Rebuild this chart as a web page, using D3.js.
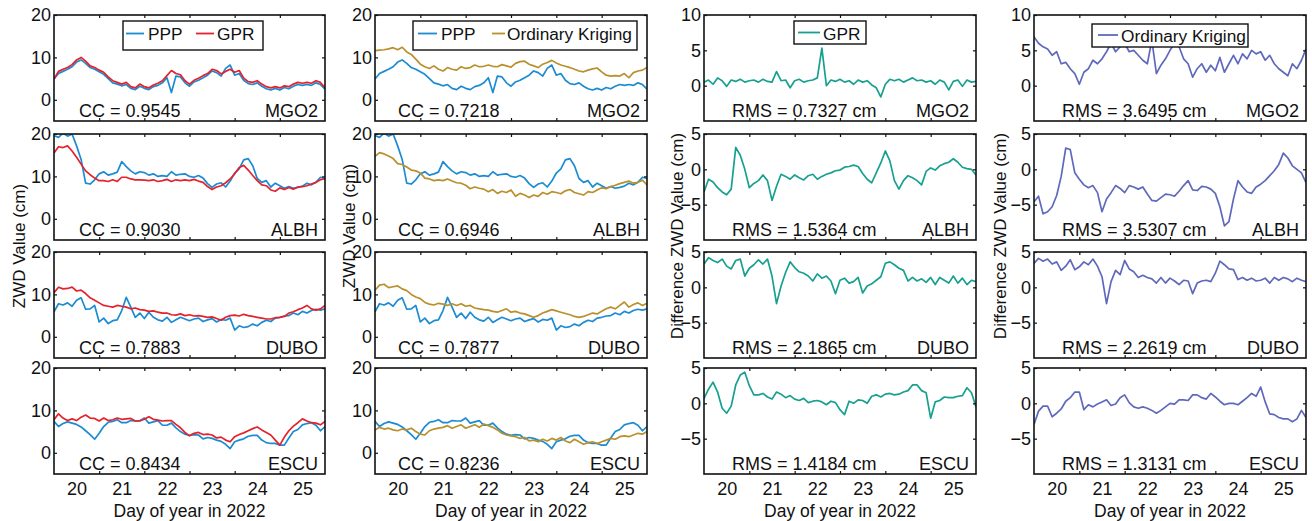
<!DOCTYPE html>
<html>
<head>
<meta charset="utf-8">
<title>ZWD PPP vs GPR / Ordinary Kriging</title>
<script src="https://cdn.jsdelivr.net/npm/d3@7"></script>
<style>
  body { margin: 0; background: #fff; }
  text { font-family: "Liberation Sans", Arial, sans-serif; fill: #111; }
</style>
</head>
<body>
<svg width="1312" height="521" id="mainsvg"></svg>
<script>
const stations = ['MGO2', 'ALBH', 'DUBO', 'ESCU'];
const dayLabels = [20, 21, 22, 23, 24, 25];
const dayBounds = [20.5, 21.5, 22.5, 23.5, 24.5];
const startDay = 19.5, stepDay = 0.1;

const ccGpr = ['0.9545', '0.9030', '0.7883', '0.8434'];
const ccOk = ['0.7218', '0.6946', '0.7877', '0.8236'];
const rmsGpr = ['0.7327', '1.5364', '2.1865', '1.4184'];
const rmsOk = ['3.6495', '3.5307', '2.2619', '1.3131'];

const pppMGO2 = [4.9,6.2,6.7,7.2,7.8,8.9,9.4,8.6,7.6,7.2, 6.6,6.0,5.0,4.0,3.7,3.3,3.6,2.7,2.4,3.2,
  2.7,2.4,3.1,3.4,4.0,5.2,1.7,5.6,5.4,4.0, 3.2,4.2,4.6,5.2,5.8,6.8,6.4,5.6,7.4,8.2,
  5.8,6.2,4.6,3.8,3.6,4.0,3.2,2.6,2.3,2.7, 2.3,2.9,2.6,3.2,3.6,3.4,3.6,3.4,4.0,3.6, 2.5];
const gprMGO2 = [4.9,6.7,7.2,7.6,8.3,9.4,10.0,9.1,8.0,7.6, 7.0,6.5,5.4,4.5,4.1,3.7,4.1,3.1,2.8,3.7,
  3.1,2.8,3.5,3.9,4.5,5.7,6.9,6.2,5.9,4.5, 3.7,4.6,5.1,5.7,6.2,7.2,6.9,6.1,6.7,7.2,
  6.5,6.9,5.1,4.3,4.1,4.5,3.7,3.1,2.8,3.1, 2.8,3.3,3.1,3.7,4.1,3.9,4.1,3.9,4.5,4.1, 2.8];
const okMGO2 = [11.6,11.7,11.8,12.0,12.3,11.8,12.4,11.3,10.7,9.6, 8.4,7.8,7.4,8.0,7.2,6.8,7.6,7.2,7.0,7.8,
  7.4,7.6,8.2,7.8,7.9,8.2,7.9,7.8,8.3,8.0, 7.7,8.6,9.0,9.1,8.4,8.0,7.6,8.4,8.8,9.3,
  8.7,8.2,7.9,7.6,7.2,6.8,6.6,7.0,7.3,7.5, 6.6,5.8,5.6,5.7,5.6,6.2,5.2,6.4,6.8,7.0, 7.6];
const dGprMGO2 = [0.5,0.8,0.2,1.1,0.7,-0.1,0.8,0.6,0.9,0.5, 0.7,0.8,0.5,0.9,0.6,0.5,2.0,0.7,0.8,-0.3,
  0.7,0.9,0.5,0.7,0.8,1.1,5.3,0.0,0.8,0.6, 0.9,0.5,0.7,0.2,0.8,0.5,0.7,0.1,-0.3,-1.6,
  0.2,0.9,0.7,0.9,0.5,0.8,1.1,0.7,0.8,0.5, 0.7,0.2,0.8,0.5,-0.6,0.6,0.8,-0.1,0.8,0.5, 0.6];
const dOkMGO2 = [6.9,6.0,5.5,5.2,4.3,4.8,3.1,3.3,2.4,1.7, 0.2,1.9,2.4,3.6,3.1,3.8,4.8,6.0,4.8,5.5,
  6.0,4.8,5.0,4.3,3.6,3.1,6.4,1.7,2.9,3.8, 5.0,6.0,5.5,3.8,3.1,1.2,2.4,3.1,1.9,2.9,
  2.1,4.0,1.9,3.1,4.3,3.1,4.5,3.8,5.0,4.5, 4.8,3.6,4.3,3.1,2.4,1.9,1.4,3.1,2.4,3.6, 5.2];

const pppALBH = [19.6,19.2,20.2,19.5,20.0,17.2,14.0,8.4,8.2,9.2, 10.6,11.1,10.3,10.6,11.0,13.5,12.3,11.3,10.6,11.1,
  10.9,10.3,10.6,10.0,10.2,10.0,11.1,10.3,10.5,10.6, 10.0,9.8,10.2,9.6,8.3,7.4,8.2,8.5,7.5,8.9,
  10.8,11.8,13.9,14.2,12.5,9.5,8.6,9.0,7.5,8.4, 7.8,7.2,7.6,7.2,7.4,7.7,8.4,8.0,8.6,9.8, 9.5];
const gprALBH = [15.5,17.0,16.8,17.2,16.0,14.5,12.9,11.3,10.4,9.6, 9.0,9.0,8.8,9.2,8.8,9.8,9.8,9.4,9.2,9.2,
  9.1,9.0,9.2,8.8,9.0,9.3,8.8,9.2,9.0,9.2, 9.0,9.3,8.9,8.6,7.6,6.9,7.5,7.8,8.5,9.4,
  10.6,12.1,12.6,11.5,10.2,9.0,8.0,7.8,6.8,6.5, 7.3,6.9,7.4,7.0,7.5,7.6,7.8,8.2,8.6,9.2, 9.5];
const okALBH = [14.7,15.6,15.3,14.8,14.2,13.0,12.8,12.2,11.5,11.3, 10.8,9.6,9.4,9.0,9.2,9.0,9.4,8.9,8.5,8.4,
  7.9,7.1,7.5,7.2,7.0,6.4,6.9,6.0,6.5,6.2, 6.8,5.3,6.0,5.6,5.0,5.6,5.3,6.2,5.8,6.4,
  6.2,5.9,6.6,6.9,6.2,5.9,5.6,6.4,6.2,6.8, 7.3,7.1,7.6,7.9,8.3,8.6,8.9,8.4,8.6,9.1, 8.0];
const dGprALBH = [-3.2,-1.4,-1.8,-2.6,-3.2,-3.6,-2.8,3.1,2.0,0.0, -2.6,-2.0,-1.6,-0.8,-1.6,-4.4,-2.4,-0.7,-1.0,-1.4,
  -0.8,-1.2,-1.5,-0.9,-0.7,-1.4,-1.0,-0.7,-0.5,-0.2, -0.1,0.3,0.4,0.6,0.4,-0.6,-1.4,-1.9,-0.5,0.9,
  2.6,1.2,-1.6,-2.8,-1.6,-0.9,-1.2,-1.6,-2.2,-0.3, 0.2,-0.1,0.5,0.8,1.0,1.5,1.0,0.3,0.1,0.0, -0.8];
const dOkALBH = [-4.6,-3.8,-6.3,-6.0,-5.3,-3.7,-1.0,3.0,2.8,-0.5, -1.4,-2.2,-2.6,-2.3,-3.3,-6.0,-4.2,-3.3,-2.3,-2.7,
  -3.3,-2.3,-2.5,-2.8,-2.5,-3.5,-4.4,-4.5,-4.0,-3.5, -3.6,-3.8,-3.1,-2.3,-1.6,-2.9,-3.0,-2.4,-2.5,-2.8,
  -3.4,-5.3,-8.0,-7.4,-4.2,-1.6,-2.5,-3.2,-3.4,-2.5, -2.1,-1.6,-0.9,-0.2,0.7,2.3,1.6,0.5,0.0,-0.5, -1.9];

const pppDUBO = [5.9,7.8,7.5,8.0,7.2,8.6,9.2,6.5,6.6,7.4, 3.5,4.4,3.1,3.8,4.0,6.2,9.3,7.0,4.6,5.6,
  4.3,5.8,4.6,4.0,3.7,4.6,3.4,4.0,4.6,4.2, 3.8,4.2,4.4,3.6,4.0,4.3,3.5,4.1,3.9,4.4,
  1.6,2.6,2.2,2.4,3.0,2.6,3.4,3.9,3.6,4.4, 4.6,4.9,5.0,5.6,5.2,6.0,5.6,6.2,6.5,6.3, 6.6];
const gprDUBO = [10.4,11.7,11.3,11.4,11.7,10.8,11.0,10.2,9.2,8.6, 8.0,7.4,7.2,7.0,7.4,7.2,7.0,6.6,6.8,6.4,
  6.3,6.0,6.1,5.8,5.6,5.6,5.2,5.1,5.4,5.0, 5.2,4.9,5.0,4.8,4.6,4.7,4.3,3.9,4.6,5.0,
  5.1,4.9,5.3,5.0,4.8,4.6,4.4,4.2,4.2,4.5, 4.6,4.8,5.6,5.9,6.4,6.8,7.4,6.6,6.3,6.6, 7.4];
const okDUBO = [11.0,12.2,12.4,11.6,11.8,12.0,11.3,10.9,10.0,9.4, 9.0,8.1,7.7,7.5,7.9,7.7,7.4,7.8,7.4,7.8,
  7.2,7.4,6.8,6.6,6.4,6.3,6.0,5.8,6.2,6.6, 5.8,6.0,5.6,5.4,5.0,4.6,5.0,5.6,6.0,6.4,
  6.1,5.8,5.5,5.2,4.8,4.6,4.8,5.2,5.6,5.4, 6.0,6.6,7.0,6.6,7.4,8.2,7.0,7.6,8.0,7.4, 7.9];
const dGprDUBO = [3.3,4.2,3.8,3.5,4.0,3.0,2.6,3.8,4.0,1.6, 2.7,3.2,3.9,3.3,4.0,1.6,-2.3,0.2,2.1,3.6,
  2.8,2.2,2.0,1.6,0.9,1.9,1.3,1.6,0.9,-0.9, 1.0,1.3,0.6,0.8,1.4,-0.8,0.2,0.5,1.0,1.5,
  3.4,3.6,3.2,2.7,2.4,0.9,1.4,0.9,1.2,0.7, 1.4,0.4,1.4,1.0,0.6,1.6,0.6,1.3,0.4,1.0, 0.8];
const dOkDUBO = [3.4,4.1,3.7,4.0,3.3,3.6,2.4,3.0,3.9,2.5, 2.9,3.6,3.2,4.0,3.0,1.5,-2.3,0.8,2.4,1.8,
  3.8,2.6,2.2,1.4,1.7,1.4,1.2,0.6,1.4,0.6, 1.3,0.9,0.4,1.0,0.9,-0.9,0.6,0.9,1.0,0.8,
  2.0,3.7,3.2,2.6,2.5,1.1,1.4,1.0,1.3,0.9, 1.0,1.3,0.6,1.4,1.0,1.4,1.2,0.8,1.3,1.0, 0.8];

const pppESCU = [7.4,6.2,6.9,7.3,7.0,6.7,6.1,5.2,4.3,3.2, 4.6,6.2,7.2,7.4,7.8,7.1,7.1,7.6,7.5,7.5,
  8.2,7.0,7.3,7.6,6.5,6.5,7.0,5.9,5.0,4.4, 4.1,4.3,4.2,3.3,3.6,3.4,3.0,2.7,2.0,1.0,
  2.6,3.0,3.3,3.9,4.1,4.1,3.0,2.4,2.2,2.2, 1.8,1.8,3.5,5.0,5.5,6.6,6.9,7.1,6.5,5.2, 6.2];
const gprESCU = [7.8,9.2,8.2,7.6,8.0,7.6,8.4,8.9,8.2,8.1, 7.5,8.2,7.6,7.8,8.2,7.9,8.0,8.1,7.5,7.6,
  7.9,8.5,7.9,7.7,7.5,7.6,7.6,6.7,5.9,4.8, 4.0,4.6,4.8,4.3,4.4,4.2,3.5,3.7,3.0,2.6,
  3.8,4.3,4.7,5.2,5.7,6.1,5.4,4.8,4.2,3.0, 1.8,3.7,5.2,6.3,7.1,8.0,7.5,7.1,7.0,6.6, 7.4];
const okESCU = [5.4,6.0,5.6,5.8,5.4,5.2,5.6,5.4,5.8,5.0, 4.4,4.2,5.2,5.6,5.8,6.0,6.4,5.8,6.2,6.6,
  5.8,6.2,6.6,6.0,6.8,6.4,6.0,5.4,4.6,4.2, 4.0,3.8,3.4,3.6,2.8,3.0,2.6,3.2,2.8,3.4,
  3.0,3.6,2.8,2.4,3.2,2.6,2.0,2.4,2.6,2.2, 2.6,3.0,3.4,3.2,3.8,4.0,3.8,4.2,4.6,4.4, 5.0];
const dGprESCU = [0.7,2.0,3.0,1.6,-0.7,-1.4,-0.4,2.6,4.0,4.4, 2.5,1.2,1.2,1.4,0.9,0.6,1.6,1.3,0.8,1.1,
  0.6,0.4,0.7,0.1,0.3,0.4,0.2,-0.2,0.3,0.1, -0.9,-1.6,0.3,0.0,0.5,0.4,0.0,1.0,1.2,0.9,
  1.3,1.4,1.2,1.3,1.6,1.8,2.6,2.6,1.8,1.5, -2.1,0.2,0.4,0.9,0.8,0.8,1.0,1.1,2.2,1.5, -0.5];
const dOkESCU = [-3.0,-1.1,-0.4,-0.4,-1.9,-1.4,-0.8,0.3,0.8,1.6, 1.6,-0.9,-0.2,-0.5,-0.1,0.2,0.5,-0.3,-0.1,0.8,
  1.2,0.1,-0.5,-0.7,-0.5,-0.7,-1.0,-1.4,-1.0,-0.5, 0.0,-0.1,0.5,0.5,0.4,1.2,1.2,0.8,0.6,1.4,
  0.9,0.3,-0.2,0.0,0.0,-0.2,0.3,0.8,1.4,1.0, 2.3,0.2,-1.5,-1.6,-2.0,-2.2,-2.2,-2.6,-2.2,-1.0, -2.0];

const ppp = [pppMGO2, pppALBH, pppDUBO, pppESCU];
const gpr = [gprMGO2, gprALBH, gprDUBO, gprESCU];
const ok = [okMGO2, okALBH, okDUBO, okESCU];
const dGpr = [dGprMGO2, dGprALBH, dGprDUBO, dGprESCU];
const dOk = [dOkMGO2, dOkALBH, dOkDUBO, dOkESCU];

// ---- layout ----
const svg = d3.select('#mainsvg');
const cBlue = '#1b8bd3', cRed = '#e4222b', cGold = '#b8902c', cTeal = '#17a08f', cPurple = '#5f69bb';
const rowTop = [15, 134, 252, 368];
const rowH = 106;
const fs = '18px';
const legFs = '17.3px';

const columns = [
  { x0: 54, x1: 325, series: r => [[ppp[r], cBlue], [gpr[r], cRed]], stat: r => 'CC = ' + ccGpr[r], statDx: 25,
    ylab: 'ZWD Value (cm)', ylabX: 19, ylabY: 246,
    legend: { x: 123, y: 21, w: 140, h: 29, ly: 33.5, ty: 40,
      items: [{ x1: 126, x2: 144, tx: 148, label: 'PPP', color: cBlue }, { x1: 196, x2: 214, tx: 217, label: 'GPR', color: cRed }] } },
  { x0: 375, x1: 647, series: r => [[ppp[r], cBlue], [ok[r], cGold]], stat: r => 'CC = ' + ccOk[r], statDx: 23,
    ylab: 'ZWD Value (cm)', ylabX: 349, ylabY: 226,
    legend: { x: 413, y: 21, w: 224, h: 29, ly: 33.5, ty: 40,
      items: [{ x1: 418, x2: 437, tx: 441, label: 'PPP', color: cBlue }, { x1: 492, x2: 505, tx: 507, label: 'Ordinary Kriging', color: cGold }] } },
  { x0: 704, x1: 976, series: r => [[dGpr[r], cTeal]], stat: r => 'RMS = ' + rmsGpr[r] + ' cm', statDx: 28,
    ylab: 'Difference ZWD Value (cm)', ylabX: 677, ylabY: 236,
    legend: { x: 794, y: 21, w: 72, h: 23, ly: 32.5, ty: 39.5,
      items: [{ x1: 798, x2: 820, tx: 823, label: 'GPR', color: cTeal }] } },
  { x0: 1034, x1: 1306, series: r => [[dOk[r], cPurple]], stat: r => 'RMS = ' + rmsOk[r] + ' cm', statDx: 28,
    ylab: 'Difference ZWD Value (cm)', ylabX: 1000, ylabY: 236,
    legend: { x: 1092, y: 24, w: 156, h: 23, ly: 35, ty: 41.5,
      items: [{ x1: 1098, x2: 1118, tx: 1121, label: 'Ordinary Kriging', color: cPurple }] } }
];

function yDomainFor(c, r) {
  if (c < 2) return { dom: [-5, 20], ticks: [0, 10, 20] };
  if (r === 0) return { dom: [-5, 10], ticks: [0, 5, 10] };
  return { dom: [-10, 5], ticks: [-5, 0, 5] };
}

columns.forEach((col, c) => {
  const xScale = d3.scaleLinear().domain([19.5, 25.5]).range([col.x0, col.x1]);

  stations.forEach((st, r) => {
    const y0 = rowTop[r], y1 = rowTop[r] + rowH;
    const yd = yDomainFor(c, r);
    const yScale = d3.scaleLinear().domain(yd.dom).range([y1, y0]);
    const g = svg.append('g');

    const clipId = `clip-${c}-${r}`;
    g.append('clipPath').attr('id', clipId)
      .append('rect').attr('x', col.x0).attr('y', y0).attr('width', col.x1 - col.x0).attr('height', rowH);

    const line = d3.line()
      .x((d, i) => xScale(startDay + i * stepDay))
      .y(d => yScale(d));

    col.series(r).forEach(([vals, color]) => {
      g.append('path').datum(vals)
        .attr('clip-path', `url(#${clipId})`)
        .attr('d', line)
        .attr('fill', 'none')
        .attr('stroke', color)
        .attr('stroke-width', 1.7)
        .attr('stroke-linejoin', 'round');
    });

    // axes with inward ticks on all four sides
    const left = g.append('g').attr('transform', `translate(${col.x0},0)`)
      .call(d3.axisLeft(yScale).tickValues(yd.ticks).tickSize(-3).tickPadding(3).tickFormat(d3.format('d')));
    g.append('g').attr('transform', `translate(${col.x1},0)`)
      .call(d3.axisRight(yScale).tickValues(yd.ticks).tickSize(-3).tickFormat(''));
    g.append('g').attr('transform', `translate(0,${y0})`)
      .call(d3.axisTop(xScale).tickValues(dayBounds).tickSize(-3).tickFormat(''));
    g.append('g').attr('transform', `translate(0,${y1})`)
      .call(d3.axisBottom(xScale).tickValues(dayBounds).tickSize(-3).tickFormat(''));
    left.selectAll('text').attr('font-size', fs).attr('fill', '#111');
    g.selectAll('.domain').remove();
    g.selectAll('.tick line').attr('stroke', '#111').attr('stroke-width', 1.2);

    g.append('rect')
      .attr('x', col.x0).attr('y', y0)
      .attr('width', col.x1 - col.x0).attr('height', rowH)
      .attr('fill', 'none').attr('stroke', '#111').attr('stroke-width', 1.6);

    g.append('text').text(col.stat(r))
      .attr('x', col.x0 + col.statDx).attr('y', y1 - 4)
      .attr('font-size', fs);
    g.append('text').text(st)
      .attr('x', col.x1 - 7).attr('y', y1 - 4)
      .attr('text-anchor', 'end')
      .attr('font-size', fs);

    if (r === 3) {
      const lab = g.append('g').attr('transform', `translate(0,${y1})`)
        .call(d3.axisBottom(xScale).tickValues(dayLabels).tickSize(0).tickPadding(8).tickFormat(d3.format('d')));
      lab.select('.domain').remove();
      lab.selectAll('text').attr('font-size', fs).attr('fill', '#111');
      g.append('text').text('Day of year in 2022')
        .attr('x', (col.x0 + col.x1) / 2).attr('y', 517)
        .attr('text-anchor', 'middle')
        .attr('font-size', '17.5px');
    }
  });

  // legend in the top panel
  const lg = col.legend;
  const leg = svg.append('g');
  leg.append('rect').attr('x', lg.x).attr('y', lg.y).attr('width', lg.w).attr('height', lg.h)
    .attr('fill', '#fff').attr('stroke', '#111').attr('stroke-width', 1.4);
  lg.items.forEach(it => {
    leg.append('line').attr('x1', it.x1).attr('x2', it.x2).attr('y1', lg.ly).attr('y2', lg.ly)
      .attr('stroke', it.color).attr('stroke-width', 1.8);
    leg.append('text').text(it.label).attr('x', it.tx).attr('y', lg.ty).attr('font-size', legFs);
  });

  // y axis title
  svg.append('text').text(col.ylab)
    .attr('transform', `translate(${col.ylabX},${col.ylabY}) rotate(-90)`)
    .attr('text-anchor', 'middle')
    .attr('dy', '0.35em')
    .attr('font-size', '17px');
});
</script>
</body>
</html>
